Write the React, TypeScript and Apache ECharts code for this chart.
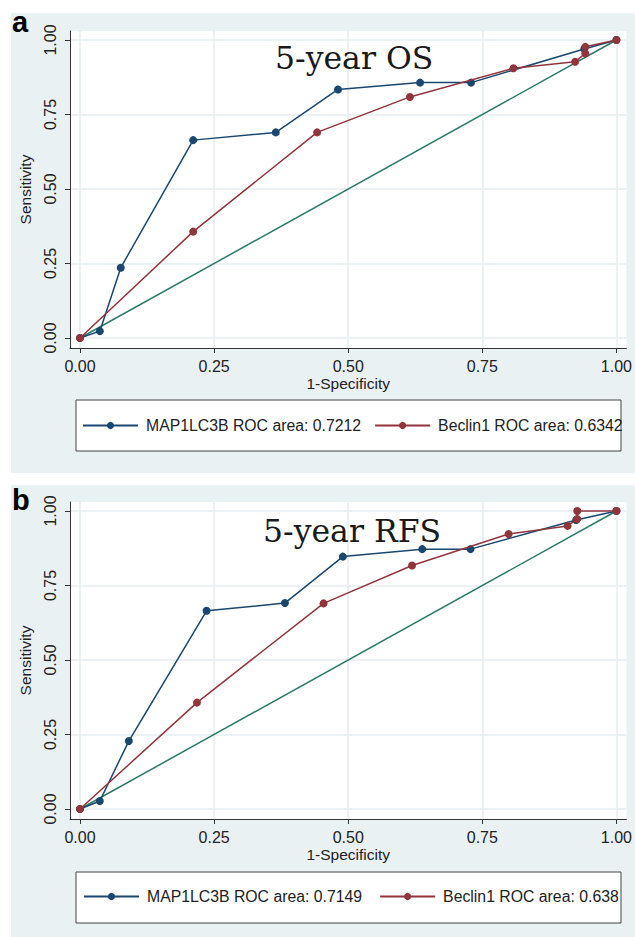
import React, { useEffect, useRef } from "react";
import * as echarts from "echarts";

// ---- Tick values ----
const axisTicks = [0, 0.25, 0.5, 0.75, 1];

// ---- Panel a: 5-year OS ----
const osTitle = "5-year OS";
const osMapName = "MAP1LC3B ROC area: 0.7212";
const osBecName = "Beclin1 ROC area: 0.6342";
const osMapFpr = [0, 0.037, 0.076, 0.211, 0.365, 0.481, 0.634, 0.729, 0.94, 1];
const osMapTpr = [0, 0.023, 0.236, 0.664, 0.69, 0.834, 0.857, 0.857, 0.97, 1];
const osBecFpr = [0, 0.211, 0.442, 0.615, 0.808, 0.923, 0.942, 0.942, 1];
const osBecTpr = [0, 0.357, 0.69, 0.809, 0.905, 0.927, 0.955, 0.977, 1];

// ---- Panel b: 5-year RFS ----
const rfsTitle = "5-year RFS";
const rfsMapName = "MAP1LC3B ROC area: 0.7149";
const rfsBecName = "Beclin1 ROC area: 0.638";
const rfsMapFpr = [0, 0.037, 0.091, 0.236, 0.382, 0.49, 0.638, 0.728, 0.925, 1];
const rfsMapTpr = [0, 0.027, 0.228, 0.665, 0.691, 0.847, 0.872, 0.872, 0.97, 1];
const rfsBecFpr = [0, 0.218, 0.454, 0.619, 0.799, 0.909, 0.927, 0.927, 1];
const rfsBecTpr = [0, 0.357, 0.69, 0.817, 0.923, 0.95, 0.973, 1, 1];

// ---- Reference diagonal ----
const refX = [0, 1];
const refY = [0, 1];

const NAVY = "#1a476f";
const MAROON = "#90353b";
const GREEN = "#2b7a69";
const PANEL_BG = "#eaf1f3";
const GRID_LINE = "#e6eef1";
const SANS = "'Liberation Sans', Arial, sans-serif";

const pairs = (xs: number[], ys: number[]) => xs.map((x, i) => [x, ys[i]]);

// layout constants
const PLOT_LEFT = 70;
const PLOT_W = 557;
const PLOT_H = 317;
const X_PAD = 10 / 537;
const Y_PAD_LO = 10 / 298;
const Y_PAD_HI = 9 / 298;

function makeXAxis(gridIndex: number) {
  return {
    type: "value",
    gridIndex,
    min: -X_PAD,
    max: 1 + X_PAD,
    name: "1-Specificity",
    nameLocation: "middle",
    nameGap: 27,
    nameTextStyle: { fontFamily: SANS, fontSize: 15.5, color: "#222" },
    axisLine: { show: true, onZero: false, lineStyle: { color: "#333", width: 1 } },
    axisTick: { show: true, customValues: axisTicks, length: 5, lineStyle: { color: "#333" } },
    axisLabel: {
      customValues: axisTicks,
      formatter: (v: number) => v.toFixed(2),
      fontFamily: SANS,
      fontSize: 16,
      color: "#222",
      margin: 10,
    },
    splitLine: { show: true, lineStyle: { color: GRID_LINE, width: 1.5 } },
  };
}

function makeYAxis(gridIndex: number) {
  return {
    type: "value",
    gridIndex,
    min: -Y_PAD_LO,
    max: 1 + Y_PAD_HI,
    name: "Sensitivity",
    nameLocation: "middle",
    nameGap: 37,
    nameRotate: 90,
    nameTextStyle: { fontFamily: SANS, fontSize: 15.5, color: "#222" },
    axisLine: { show: true, onZero: false, lineStyle: { color: "#333", width: 1 } },
    axisTick: { show: true, customValues: axisTicks, length: 5, lineStyle: { color: "#333" } },
    axisLabel: {
      customValues: axisTicks,
      formatter: (v: number) => v.toFixed(2),
      fontFamily: SANS,
      fontSize: 16,
      color: "#222",
      rotate: 90,
      margin: 12,
    },
    splitLine: { show: true, lineStyle: { color: GRID_LINE, width: 1.5 } },
  };
}

function makeSeries(idx: number, mapName: string, mapX: number[], mapY: number[], becName: string, becX: number[], becY: number[]) {
  const common = {
    type: "line",
    xAxisIndex: idx,
    yAxisIndex: idx,
    symbol: "circle",
    symbolSize: 8,
    showSymbol: true,
  };
  return [
    {
      type: "line",
      name: "reference" + idx,
      xAxisIndex: idx,
      yAxisIndex: idx,
      data: pairs(refX, refY),
      showSymbol: false,
      symbol: "none",
      lineStyle: { color: GREEN, width: 1.5 },
      itemStyle: { color: GREEN },
      z: 2,
    },
    {
      ...common,
      name: mapName,
      data: pairs(mapX, mapY),
      lineStyle: { color: NAVY, width: 1.5 },
      itemStyle: { color: NAVY },
      z: 3,
    },
    {
      ...common,
      name: becName,
      data: pairs(becX, becY),
      lineStyle: { color: MAROON, width: 1.5 },
      itemStyle: { color: MAROON },
      z: 4,
    },
  ];
}

function makeLegend(names: string[], left: number, top: number, gap: number) {
  return {
    data: names,
    left,
    top,
    orient: "horizontal",
    padding: 0,
    itemWidth: 55,
    itemHeight: 9,
    itemGap: gap,
    selectedMode: false,
    textStyle: { fontFamily: SANS, fontSize: 15.8, color: "#222", padding: [0, 0, 0, 3] },
  };
}

export default function App() {
  const ref = useRef<HTMLDivElement>(null);

  useEffect(() => {
    if (!ref.current) return;
    const chart = echarts.init(ref.current, null, { renderer: "svg" });

    const option: any = {
      animation: false,
      backgroundColor: "#ffffff",
      grid: [
        { left: PLOT_LEFT, top: 31, width: PLOT_W, height: PLOT_H, show: true, backgroundColor: "#ffffff", borderWidth: 0 },
        { left: PLOT_LEFT, top: 502, width: PLOT_W, height: PLOT_H, show: true, backgroundColor: "#ffffff", borderWidth: 0 },
      ],
      xAxis: [makeXAxis(0), makeXAxis(1)],
      yAxis: [makeYAxis(0), makeYAxis(1)],
      legend: [
        makeLegend([osMapName, osBecName], 82, 417.5, 13),
        makeLegend([rfsMapName, rfsBecName], 83, 888.5, 17),
      ],
      graphic: [
        { type: "rect", z: -10, shape: { x: 11, y: 13, width: 624, height: 460 }, style: { fill: PANEL_BG } },
        { type: "rect", z: -10, shape: { x: 11, y: 485, width: 624, height: 452 }, style: { fill: PANEL_BG } },
        { type: "rect", z: 1, shape: { x: 76, y: 400, width: 545, height: 51 }, style: { fill: "#fff", stroke: "#444", lineWidth: 1 } },
        { type: "rect", z: 1, shape: { x: 76, y: 872, width: 545, height: 51 }, style: { fill: "#fff", stroke: "#444", lineWidth: 1 } },
        { type: "text", z: 5, x: 12, y: 22, style: { text: "a", font: `bold 29px ${SANS}`, fill: "#000", verticalAlign: "middle" } },
        { type: "text", z: 5, x: 12, y: 500, style: { text: "b", font: `bold 29px ${SANS}`, fill: "#000", verticalAlign: "middle" } },
        { type: "text", z: 5, x: 275, y: 58, style: { text: osTitle, font: `31.5px 'DejaVu Serif', serif`, fill: "#1a1a1a", verticalAlign: "middle" } },
        { type: "text", z: 5, x: 263, y: 531, style: { text: rfsTitle, font: `31.5px 'DejaVu Serif', serif`, fill: "#1a1a1a", verticalAlign: "middle" } },
      ],
      series: [
        ...makeSeries(0, osMapName, osMapFpr, osMapTpr, osBecName, osBecFpr, osBecTpr),
        ...makeSeries(1, rfsMapName, rfsMapFpr, rfsMapTpr, rfsBecName, rfsBecFpr, rfsBecTpr),
      ],
    };

    chart.setOption(option);
    return () => chart.dispose();
  }, []);

  return (
    <div
      ref={ref}
      style={{ position: "absolute", left: 0, top: 0, width: 635, height: 937 }}
    />
  );
}
